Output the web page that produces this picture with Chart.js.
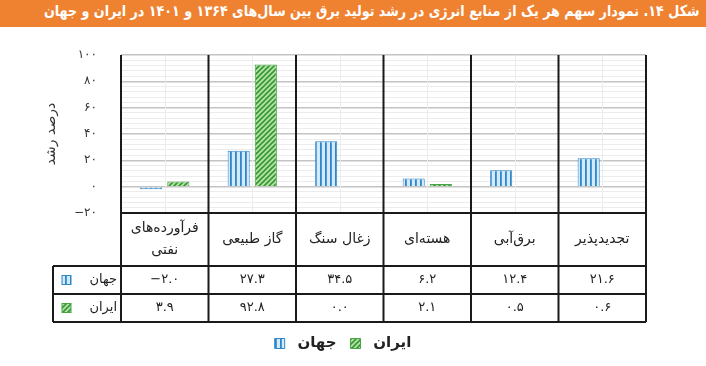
<!DOCTYPE html>
<html>
<head>
<meta charset="utf-8">
<script src="https://cdn.jsdelivr.net/npm/chart.js@4.4.0/dist/chart.umd.min.js"></script>
<style>
body { margin: 0; background: #fff; }
#wrap { position: relative; width: 706px; height: 366px; }
#title {
    position: absolute; left: 0; top: 0; width: 706px; height: 27px;
    background: #ef8231; overflow: hidden;
}
#title span {
    position: absolute; right: 6px; top: 2px; line-height: 27px;
    color: #fff; font: bold 15px 'DejaVu Sans'; direction: rtl;
    white-space: nowrap; transform-origin: right center;
}
canvas { position: absolute; left: 0; top: 0; }
</style>
</head>
<body>
<div id="wrap">
    <canvas id="energyChart" width="706" height="366"></canvas>
    <div id="title"><span id="titleText">شکل ۱۴. نمودار سهم هر یک از منابع انرژی در رشد تولید برق بین سال‌های ۱۳۶۴ و ۱۴۰۱ در ایران و جهان</span></div>
</div>
<script>
// categories from left to right as drawn
var categories = [['فرآورده‌های', 'نفتی'], 'گاز طبیعی', 'زغال سنگ', 'هسته‌ای', 'برق‌آبی', 'تجدیدپذیر'];
var seriesNames = ['جهان', 'ایران'];
var worldValues = [-2.0, 27.3, 34.5, 6.2, 12.4, 21.6];
var iranValues = [3.9, 92.8, 0.0, 2.1, 0.5, 0.6];
var yMin = -20, yMax = 100, yMajor = 20, yMinor = 4;

function fa(v) {
    return String(v).replace(/\d/g, function(d) { return '۰۱۲۳۴۵۶۷۸۹'[d]; }).replace('-', '−');
}

document.addEventListener('DOMContentLoaded', function() {
    // squeeze the title to the width it has in the figure
    var t = document.getElementById('titleText');
    t.style.transform = 'scaleX(' + Math.min(1, 656 / t.offsetWidth) + ')';

    var canvas = document.getElementById('energyChart');
    var ctx = canvas.getContext('2d');

    // blue vertical stripes
    var s = document.createElement('canvas');
    s.width = 5; s.height = 5;
    var sg = s.getContext('2d');
    sg.fillStyle = '#d3eafa'; sg.fillRect(0, 0, 5, 5);
    sg.fillStyle = '#2f86c9'; sg.fillRect(0, 0, 1.8, 5);
    var worldFill = ctx.createPattern(s, 'repeat');

    // green diagonal hatch
    var h = document.createElement('canvas');
    h.width = 5; h.height = 5;
    var hg = h.getContext('2d');
    hg.fillStyle = '#b4e4a0'; hg.fillRect(0, 0, 5, 5);
    hg.strokeStyle = '#35963a'; hg.lineWidth = 1.6;
    hg.beginPath();
    hg.moveTo(-1, 6); hg.lineTo(6, -1);
    hg.moveTo(-1, 1); hg.lineTo(1, -1);
    hg.moveTo(4, 6); hg.lineTo(6, 4);
    hg.stroke();
    var iranFill = ctx.createPattern(h, 'repeat');

    var fills = [worldFill, iranFill];
    var borders = ['#2f86c9', '#46a346'];
    var seriesValues = [worldValues, iranValues];

    var tablePlugin = {
        id: 'dataTable',
        beforeDatasetsDraw: function(chart) {
            var c = chart.ctx, area = chart.chartArea, x = chart.scales.x;
            c.save();
            c.strokeStyle = '#ececec';
            c.lineWidth = 1;
            categories.forEach(function(cat, i) {
                var px = Math.round(x.getPixelForValue(i)) + 0.5;
                c.beginPath(); c.moveTo(px, area.top); c.lineTo(px, area.bottom); c.stroke();
            });
            c.restore();
        },
        afterDraw: function(chart) {
            var c = chart.ctx, area = chart.chartArea, x = chart.scales.x;
            var half = (x.getPixelForValue(1) - x.getPixelForValue(0)) / 2;
            var top = area.bottom;
            var row1 = top + 53, row2 = row1 + 28, row3 = row2 + 28;
            var leftCol = 53;
            c.save();
            c.strokeStyle = '#1a1a1a';
            c.lineWidth = 2;
            c.beginPath();
            c.moveTo(area.left, top); c.lineTo(area.right, top);
            [row1, row2, row3].forEach(function(y) { c.moveTo(leftCol, y); c.lineTo(area.right, y); });
            c.moveTo(leftCol, row1); c.lineTo(leftCol, row3);
            for (var i = 0; i <= categories.length; i++) {
                var bx = x.getPixelForValue(i) - half;
                c.moveTo(bx, area.top); c.lineTo(bx, row3);
            }
            c.stroke();

            c.fillStyle = '#222';
            c.textAlign = 'center';
            c.textBaseline = 'middle';
            categories.forEach(function(cat, i) {
                var cx = x.getPixelForValue(i);
                var lines = Array.isArray(cat) ? cat : [cat];
                var mid = (top + row1) / 2;
                c.font = '14px "DejaVu Sans"';
                lines.forEach(function(l, k) {
                    c.fillText(l, cx, mid + (k - (lines.length - 1) / 2) * 22);
                });
                c.font = '13px "DejaVu Sans"';
                c.fillText(fa(worldValues[i].toFixed(1)), cx, (row1 + row2) / 2);
                c.fillText(fa(iranValues[i].toFixed(1)), cx, (row2 + row3) / 2);
            });

            [row1, row2].forEach(function(y, k) {
                c.textAlign = 'right';
                c.fillStyle = '#222';
                c.fillText(seriesNames[k], area.left - 4, y + 14);
                c.fillStyle = fills[k];
                c.fillRect(62, y + 9.5, 9, 9);
                c.strokeStyle = borders[k];
                c.lineWidth = 1;
                c.strokeRect(62, y + 9.5, 9, 9);
            });
            c.restore();
        }
    };

    var energyChart = new Chart(ctx, {
        type: 'bar',
        data: {
            labels: categories,
            datasets: seriesNames.map(function(name, k) {
                return {
                    label: ' ' + name,
                    data: seriesValues[k],
                    backgroundColor: fills[k],
                    borderColor: borders[k],
                    borderWidth: 1,
                    barPercentage: 0.815,
                    categoryPercentage: 0.62
                };
            })
        },
        options: {
            responsive: false,
            animation: false,
            layout: { padding: { top: 55, left: 40, right: 60, bottom: 5 } },
            scales: {
                x: {
                    grid: { display: false },
                    border: { display: false },
                    ticks: { display: false },
                    afterFit: function(scale) { scale.height = 109; }
                },
                y: {
                    min: yMin,
                    max: yMax,
                    border: { display: false },
                    grid: {
                        drawTicks: false,
                        color: function(c) { return c.tick && c.tick.value % yMajor === 0 ? '#c4c4c4' : '#ececec'; },
                        lineWidth: function(c) { return c.tick && c.tick.value % yMajor === 0 ? 1.5 : 1; }
                    },
                    ticks: {
                        stepSize: yMinor,
                        autoSkip: false,
                        padding: 24,
                        color: '#333',
                        font: { family: 'DejaVu Sans', size: 12 },
                        callback: function(v) { return v % yMajor === 0 ? fa(v) : ''; }
                    },
                    title: {
                        display: true,
                        text: 'درصد رشد',
                        color: '#333',
                        padding: { top: 3, bottom: 0 },
                        font: { family: 'DejaVu Sans', size: 14 }
                    },
                    afterFit: function(scale) { scale.width = 81; }
                }
            },
            plugins: {
                legend: {
                    position: 'bottom',
                    labels: {
                        boxWidth: 10,
                        boxHeight: 10,
                        padding: 14,
                        color: '#222',
                        font: { family: 'DejaVu Sans', size: 15, weight: 'bold' }
                    }
                },
                tooltip: { enabled: false }
            }
        },
        plugins: [tablePlugin]
    });
});
</script>
</body>
</html>
